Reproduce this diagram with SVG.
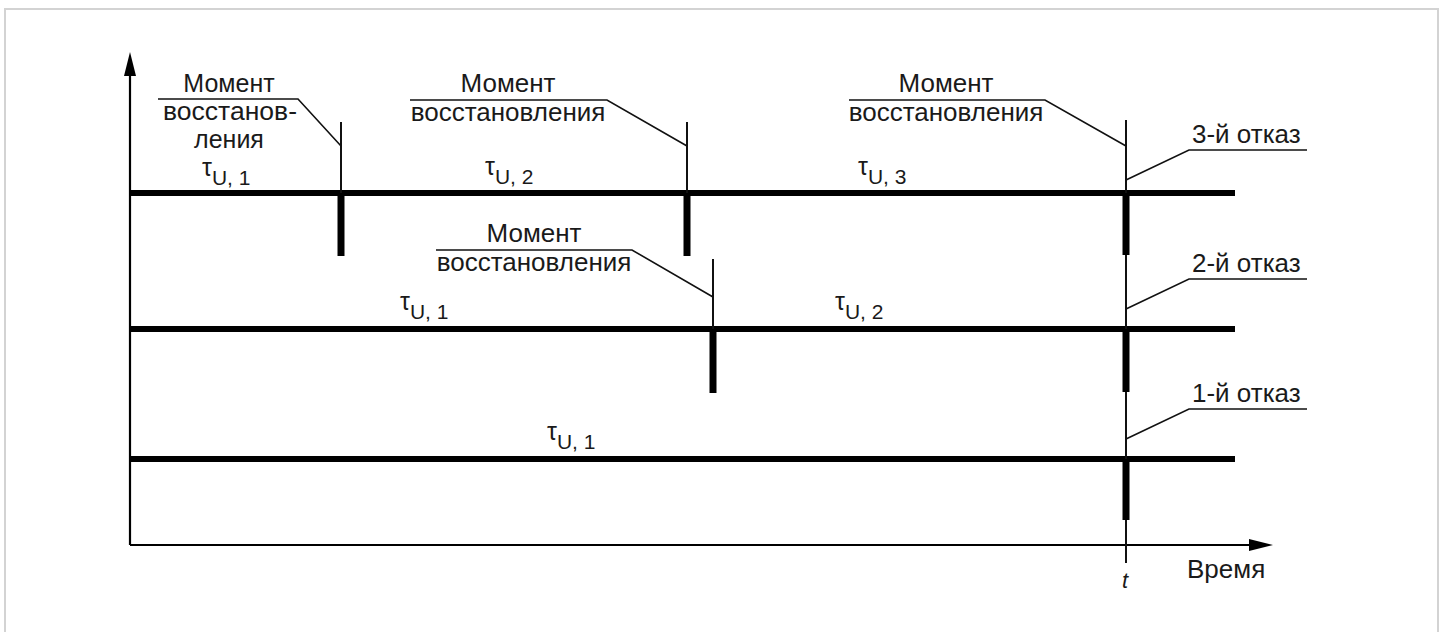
<svg xmlns="http://www.w3.org/2000/svg" width="1446" height="632" viewBox="0 0 1446 632">
<style>
text{font-family:"Liberation Sans",Arial,sans-serif;fill:#1a1a1a;font-size:26px}
.c{text-anchor:middle}
.s25{font-size:25px}
.sub{font-size:21px}
.tau{font-size:25px}
.thick{stroke:#000;stroke-width:6;fill:none}
.vt{stroke:#000;stroke-width:7;fill:none}
.thin{stroke:#111;stroke-width:2;fill:none}
.lead{stroke:#111;stroke-width:1.6;fill:none}
.axis{stroke:#000;stroke-width:2.2;fill:none}
</style>
<rect x="5" y="9" width="1433" height="640" fill="#fff" stroke="#d3d3d3" stroke-width="2"/>
<g id="axes">
<line class="axis" x1="130" y1="70" x2="130" y2="545"/>
<polygon points="130,52 124,76 136,76" fill="#000"/>
<line class="axis" x1="130" y1="545" x2="1252" y2="545"/>
<polygon points="1273,545 1249,539 1249,551" fill="#000"/>
<text id="lbl-time" x="1187" y="578">Время</text>
<text id="lbl-t" x="1122" y="588" style="font-style:italic;font-size:22px">t</text>
</g>
<g id="timelines">
<line class="thick" x1="130" y1="193" x2="1235" y2="193"/>
<line class="thick" x1="130" y1="329" x2="1235" y2="329"/>
<line class="thick" x1="130" y1="459" x2="1235" y2="459"/>
</g>
<g id="connectors">
<line class="thin" x1="1126" y1="120" x2="1126" y2="563" stroke="#333"/>
<line class="vt" x1="1126" y1="193" x2="1126" y2="255"/>
<line class="vt" x1="1126" y1="329" x2="1126" y2="392"/>
<line class="vt" x1="1126" y1="459" x2="1126" y2="520"/>
<line class="thin" x1="341" y1="122" x2="341" y2="193"/>
<line class="vt" x1="341" y1="193" x2="341" y2="256"/>
<line class="thin" x1="687" y1="122" x2="687" y2="193"/>
<line class="vt" x1="687" y1="193" x2="687" y2="256"/>
<line class="thin" x1="713" y1="259" x2="713" y2="329"/>
<line class="vt" x1="713" y1="329" x2="713" y2="393"/>
<polyline class="lead" points="158,99 298,99 341,146"/>
<polyline class="lead" points="410,100 607,100 687,146"/>
<polyline class="lead" points="849,100 1045,100 1126,146"/>
<polyline class="lead" points="436,250 632,250 713,297"/>
<polyline class="lead" points="1126,180 1189,150 1307,150"/>
<polyline class="lead" points="1126,309 1189,279 1307,279"/>
<polyline class="lead" points="1126,439 1189,409 1307,409"/>
</g>
<g id="restore-1-1">
<text class="c s25" x="229" y="92">Момент</text>
<text class="c s25" x="230" y="120" textLength="134" lengthAdjust="spacingAndGlyphs">восстанов-</text>
<text class="c s25" x="229" y="148">ления</text>
</g>
<g id="restore-1-2">
<text class="c" x="508" y="92">Момент</text>
<text class="c" x="508" y="121">восстановления</text>
</g>
<g id="restore-1-3">
<text class="c" x="946" y="92">Момент</text>
<text class="c" x="946" y="121">восстановления</text>
</g>
<g id="restore-2-1">
<text class="c" x="534" y="242">Момент</text>
<text class="c" x="534" y="271">восстановления</text>
</g>
<g id="fail-3"><text x="1192" y="143">3-й отказ</text></g>
<g id="fail-2"><text x="1192" y="272">2-й отказ</text></g>
<g id="fail-1"><text x="1192" y="402">1-й отказ</text></g>
<g id="tau-labels">
<text x="202" y="176"><tspan class="tau">τ</tspan><tspan class="sub" dy="9">U, 1</tspan></text>
<text x="485" y="175"><tspan class="tau">τ</tspan><tspan class="sub" dy="9">U, 2</tspan></text>
<text x="858" y="175"><tspan class="tau">τ</tspan><tspan class="sub" dy="9">U, 3</tspan></text>
<text x="400" y="310"><tspan class="tau">τ</tspan><tspan class="sub" dy="9">U, 1</tspan></text>
<text x="835" y="310"><tspan class="tau">τ</tspan><tspan class="sub" dy="9">U, 2</tspan></text>
<text x="547" y="440"><tspan class="tau">τ</tspan><tspan class="sub" dy="9">U, 1</tspan></text>
</g>
</svg>
